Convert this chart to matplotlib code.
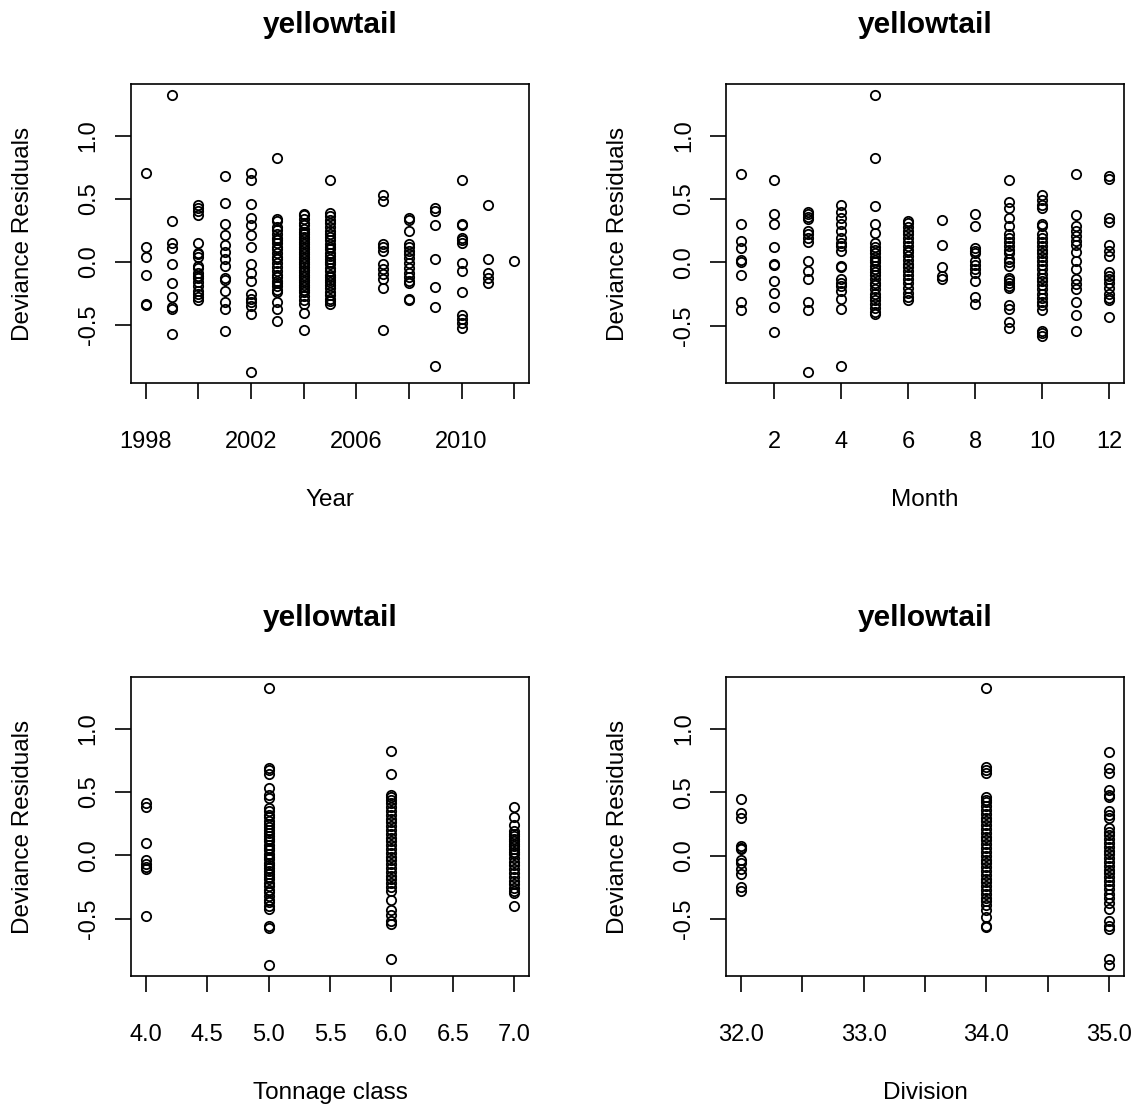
import matplotlib
matplotlib.use("Agg")
import matplotlib.pyplot as plt

plt.rcParams['font.family'] = ['Liberation Sans', 'DejaVu Sans']

# Deviance residuals grouped by each covariate level
year_levels = [1998, 1999, 2000, 2001, 2002, 2003, 2004, 2005, 2007, 2008, 2009, 2010, 2011, 2012]
year_resid = [
    [0.70, 0.12, 0.04, -0.10, -0.33, -0.34],
    [1.32, 0.32, 0.15, 0.11, -0.02, -0.17, -0.28, -0.36, -0.37, -0.57],
    [0.45, 0.43, 0.40, 0.37, 0.15, 0.07, 0.06, 0.04, -0.03, -0.05, -0.09, -0.11, -0.13,
     -0.16, -0.19, -0.23, -0.25, -0.28, -0.30],
    [0.68, 0.47, 0.30, 0.21, 0.135, 0.075, 0.02, -0.03, -0.13, -0.14, -0.23, -0.32, -0.375, -0.55],
    [0.70, 0.65, 0.46, 0.35, 0.29, 0.21, 0.12, -0.015, -0.085, -0.15, -0.25, -0.29, -0.32,
     -0.35, -0.41, -0.87],
    [0.82, 0.34, 0.32, 0.28, 0.25, 0.22, 0.19, 0.17, 0.15, 0.12, 0.10, 0.07, 0.04, 0.02,
     -0.01, -0.04, -0.07, -0.10, -0.12, -0.15, -0.17, -0.19, -0.22, -0.24, -0.32, -0.375, -0.47],
    [0.38, 0.37, 0.34, 0.31, 0.29, 0.26, 0.24, 0.22, 0.20, 0.18, 0.16, 0.14, 0.12, 0.10,
     0.08, 0.06, 0.04, 0.02, 0.0, -0.02, -0.04, -0.06, -0.08, -0.10, -0.12, -0.14, -0.16,
     -0.18, -0.20, -0.22, -0.24, -0.27, -0.30, -0.33, -0.40, -0.54],
    [0.65, 0.39, 0.36, 0.33, 0.31, 0.28, 0.245, 0.22, 0.20, 0.17, 0.14, 0.12, 0.10, 0.07,
     0.05, 0.02, 0.0, -0.02, -0.05, -0.07, -0.10, -0.12, -0.14, -0.16, -0.18, -0.21, -0.24,
     -0.26, -0.29, -0.31, -0.33],
    [0.53, 0.48, 0.14, 0.115, 0.09, -0.015, -0.055, -0.095, -0.135, -0.21, -0.54],
    [0.35, 0.33, 0.245, 0.14, 0.12, 0.09, 0.06, 0.03, -0.01, -0.05, -0.09, -0.12, -0.15,
     -0.17, -0.29, -0.30],
    [0.43, 0.40, 0.29, 0.02, -0.20, -0.355, -0.82],
    [0.65, 0.30, 0.29, 0.19, 0.17, 0.15, -0.005, -0.07, -0.24, -0.42, -0.45, -0.48, -0.52],
    [0.45, 0.02, -0.09, -0.125, -0.17],
    [0.01],
]

month_levels = list(range(1, 13))
month_resid = [
    [0.695, 0.30, 0.17, 0.11, 0.02, 0.0, -0.10, -0.315, -0.38],
    [0.65, 0.38, 0.30, 0.12, -0.01, -0.02, -0.15, -0.24, -0.355, -0.55],
    [0.40, 0.38, 0.36, 0.34, 0.25, 0.22, 0.19, 0.16, 0.01, -0.07, -0.13, -0.31, -0.375, -0.865],
    [0.45, 0.40, 0.35, 0.30, 0.245, 0.19, 0.155, 0.13, 0.09, -0.03, -0.04, -0.13, -0.16,
     -0.185, -0.225, -0.29, -0.365, -0.82],
    [1.32, 0.82, 0.445, 0.30, 0.23, 0.15, 0.12, 0.10, 0.07, 0.04, 0.02, 0.0, -0.03, -0.05,
     -0.08, -0.10, -0.13, -0.16, -0.18, -0.21, -0.25, -0.27, -0.30, -0.33, -0.36, -0.39, -0.405],
    [0.33, 0.31, 0.28, 0.25, 0.22, 0.19, 0.16, 0.13, 0.10, 0.08, 0.05, 0.02, -0.01, -0.04,
     -0.07, -0.10, -0.13, -0.16, -0.20, -0.24, -0.27, -0.30],
    [0.335, 0.135, -0.04, -0.105, -0.13],
    [0.38, 0.29, 0.115, 0.09, 0.075, 0.01, -0.02, -0.05, -0.085, -0.145, -0.27, -0.33],
    [0.65, 0.48, 0.43, 0.35, 0.29, 0.22, 0.19, 0.16, 0.13, 0.10, 0.07, 0.03, 0.0, -0.03,
     -0.12, -0.14, -0.16, -0.19, -0.20, -0.34, -0.37, -0.47, -0.52],
    [0.53, 0.49, 0.45, 0.43, 0.30, 0.29, 0.22, 0.19, 0.16, 0.13, 0.10, 0.07, 0.04, 0.01,
     -0.02, -0.05, -0.09, -0.12, -0.15, -0.18, -0.21, -0.25, -0.28, -0.31, -0.34, -0.38,
     -0.54, -0.56, -0.58],
    [0.695, 0.37, 0.29, 0.245, 0.21, 0.17, 0.14, 0.08, 0.01, -0.055, -0.13, -0.17, -0.21,
     -0.31, -0.415, -0.54],
    [0.68, 0.66, 0.35, 0.32, 0.14, 0.09, 0.05, -0.08, -0.105, -0.13, -0.16, -0.20, -0.25,
     -0.28, -0.30, -0.43],
]

tonnage_levels = [4.0, 5.0, 6.0, 7.0]
tonnage_resid = [
    [0.41, 0.38, 0.10, -0.04, -0.07, -0.09, -0.11, -0.48],
    [1.32, 0.69, 0.67, 0.64, 0.53, 0.48, 0.45, 0.375, 0.35, 0.32, 0.30, 0.27, 0.25, 0.22,
     0.20, 0.18, 0.15, 0.13, 0.11, 0.08, 0.06, 0.04, 0.01, -0.01, -0.03, -0.06, -0.08, -0.10,
     -0.12, -0.15, -0.17, -0.19, -0.22, -0.24, -0.27, -0.29, -0.32, -0.35, -0.37, -0.40,
     -0.42, -0.555, -0.57, -0.865],
    [0.82, 0.64, 0.48, 0.46, 0.44, 0.41, 0.38, 0.35, 0.32, 0.29, 0.26, 0.23, 0.20, 0.17,
     0.14, 0.11, 0.08, 0.05, 0.02, -0.01, -0.04, -0.07, -0.10, -0.13, -0.16, -0.19, -0.22,
     -0.25, -0.28, -0.35, -0.43, -0.47, -0.52, -0.54, -0.82],
    [0.38, 0.30, 0.24, 0.19, 0.17, 0.15, 0.13, 0.11, 0.09, 0.07, 0.05, 0.03, 0.01, -0.02,
     -0.05, -0.08, -0.11, -0.14, -0.17, -0.20, -0.23, -0.26, -0.28, -0.30, -0.40],
]

division_levels = [32.0, 34.0, 35.0]
division_resid = [
    [0.445, 0.335, 0.30, 0.075, 0.06, 0.05, -0.035, -0.055, -0.105, -0.145, -0.25, -0.28],
    [1.32, 0.70, 0.675, 0.65, 0.46, 0.44, 0.42, 0.39, 0.36, 0.33, 0.30, 0.27, 0.24, 0.21,
     0.18, 0.15, 0.12, 0.09, 0.06, 0.03, 0.0, -0.03, -0.06, -0.09, -0.12, -0.15, -0.18,
     -0.21, -0.24, -0.27, -0.30, -0.33, -0.36, -0.39, -0.43, -0.48, -0.55, -0.56],
    [0.82, 0.69, 0.65, 0.52, 0.48, 0.46, 0.35, 0.32, 0.30, 0.22, 0.19, 0.16, 0.13, 0.10,
     0.07, 0.04, 0.01, -0.02, -0.05, -0.08, -0.11, -0.14, -0.17, -0.20, -0.23, -0.26,
     -0.30, -0.33, -0.37, -0.42, -0.515, -0.55, -0.575, -0.81, -0.86],
]

# tick positions and the labels that fit (empty string = tick only)
year_ticks = [1998, 2000, 2002, 2004, 2006, 2008, 2010, 2012]
year_ticklabels = ["1998", "", "2002", "", "2006", "", "2010", ""]
month_ticks = [2, 4, 6, 8, 10, 12]
month_ticklabels = ["2", "4", "6", "8", "10", "12"]
tonnage_ticks = [4.0, 4.5, 5.0, 5.5, 6.0, 6.5, 7.0]
tonnage_ticklabels = ["4.0", "4.5", "5.0", "5.5", "6.0", "6.5", "7.0"]
division_ticks = [32.0, 32.5, 33.0, 33.5, 34.0, 34.5, 35.0]
division_ticklabels = ["32.0", "", "33.0", "", "34.0", "", "35.0"]
resid_ticks = [-0.5, 0.0, 0.5, 1.0]
resid_ticklabels = ["-0.5", "0.0", "0.5", "1.0"]

W, H = 1142, 1114
fig = plt.figure(figsize=(W / 100, H / 100), dpi=100)

panels = [
    (131, 84, year_levels, year_resid, year_ticks, year_ticklabels, "Year"),
    (726, 84, month_levels, month_resid, month_ticks, month_ticklabels, "Month"),
    (131, 677, tonnage_levels, tonnage_resid, tonnage_ticks, tonnage_ticklabels, "Tonnage class"),
    (726, 677, division_levels, division_resid, division_ticks, division_ticklabels, "Division"),
]
box_w, box_h = 398, 299

for left, top, levels, resid, ticks, ticklabels, xlab in panels:
    ax = fig.add_axes([left / W, 1 - (top + box_h) / H, box_w / W, box_h / H])
    for lev, vals in zip(levels, resid):
        ax.plot([lev] * len(vals), vals, 'o', mfc='none', mec='black', ms=6.7, mew=1.3)
    ax.margins(0.04)

    ax.set_xticks(ticks)
    ax.set_xticklabels(ticklabels)
    ax.set_yticks(resid_ticks)
    ax.set_yticklabels(resid_ticklabels, rotation=90, va='center')
    ax.tick_params(direction='out', length=11.5, width=1.2, labelsize=17, color='black')
    ax.tick_params(axis='x', pad=23)
    ax.tick_params(axis='y', pad=11)
    for sp in ax.spines.values():
        sp.set_linewidth(1.2)

    ax.set_title("yellowtail", fontsize=21.5, fontweight='bold', y=1 + 59 / box_h, va='center', pad=0)
    ax.text(0.5, -117 / box_h, xlab, transform=ax.transAxes, ha='center', va='center', fontsize=17.5)
    ax.text(-108 / box_w, 0.5, "Deviance Residuals", transform=ax.transAxes, rotation=90,
            ha='center', va='center', fontsize=17.5)

fig.savefig("out.png", dpi=100)
